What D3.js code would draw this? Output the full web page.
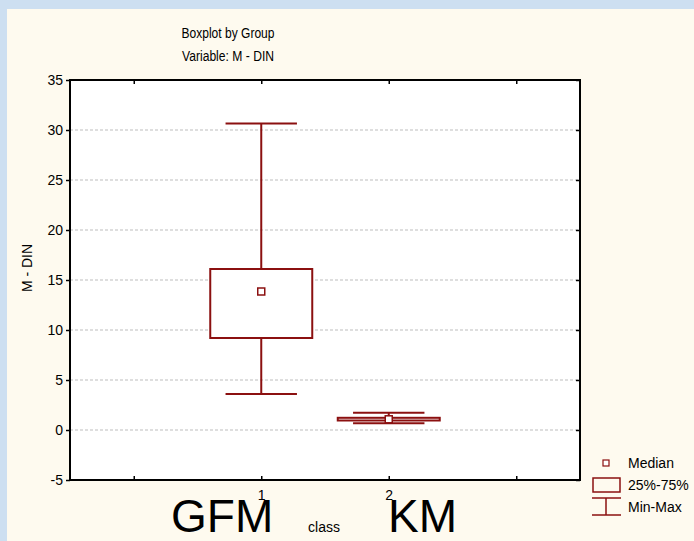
<!DOCTYPE html>
<meta charset="utf-8">
<script src="https://d3js.org/d3.v7.min.js"></script>
<style>
  body { margin: 0; }
  text { font-family: "Liberation Sans", Arial, sans-serif; fill: #000; }
</style>
<div id="chart"></div>
<script>
// data
var groupPos = [1, 2];
var groupNames = ["GFM", "KM"];
var mins = [3.6, 0.67];
var q1s = [9.2, 0.95];
var medians = [13.85, 1.07];
var q3s = [16.1, 1.22];
var maxs = [30.65, 1.72];
var yTicks = [-5, 0, 5, 10, 15, 20, 25, 30, 35];
var xTicks = [0, 1, 2, 3];

var W = 694, H = 541;
var red = "#8b1010";

var svg = d3.select("#chart").append("svg")
  .attr("width", W).attr("height", H);

// blue marble-ish page background + cream panel
svg.append("rect").attr("width", W).attr("height", H).attr("fill", "#cddff1");
svg.append("rect").attr("x", 7).attr("y", 9).attr("width", W - 7).attr("height", H - 9)
  .attr("fill", "#fefaef");

var x = d3.scaleLinear().domain([-0.5, 3.5]).range([70, 580]);
var y = d3.scaleLinear().domain([-5, 35]).range([480, 80]);

// plot area
svg.append("rect")
  .attr("x", x(-0.5)).attr("y", y(35))
  .attr("width", x(3.5) - x(-0.5)).attr("height", y(-5) - y(35))
  .attr("fill", "#fff");

// grid
svg.append("g").selectAll("line")
  .data(yTicks.filter(function(d) { return d > -5 && d < 35; }))
  .enter().append("line")
    .attr("x1", x(-0.5)).attr("x2", x(3.5))
    .attr("y1", function(d) { return y(d); })
    .attr("y2", function(d) { return y(d); })
    .attr("stroke", "#bdbdbd").attr("stroke-dasharray", "3,2");

function styleAxis(g) {
  g.select(".domain").remove();
  g.selectAll("line").attr("stroke", "#000").attr("stroke-width", 1.5);
  g.selectAll("text").style("font-size", "14px").attr("font-family", null);
}

svg.append("g").attr("transform", "translate(70,0)")
  .call(d3.axisLeft(y).tickValues(yTicks).tickSize(4).tickPadding(3)
    .tickFormat(function(d) { return String(d); }))
  .call(styleAxis);

svg.append("g").attr("transform", "translate(580,0)")
  .call(d3.axisRight(y).tickValues(yTicks).tickSize(-4).tickFormat(""))
  .call(styleAxis);

svg.append("g").attr("transform", "translate(0,80)")
  .call(d3.axisTop(x).tickValues(xTicks).tickSize(-4).tickFormat(""))
  .call(styleAxis);

svg.append("g").attr("transform", "translate(0,480)")
  .call(d3.axisBottom(x).tickValues(xTicks).tickSize(-4).tickPadding(10)
    .tickFormat(function(d) { return groupPos.indexOf(d) >= 0 ? d : ""; }))
  .call(styleAxis);

// frame
svg.append("rect")
  .attr("x", x(-0.5)).attr("y", y(35))
  .attr("width", x(3.5) - x(-0.5)).attr("height", y(-5) - y(35))
  .attr("fill", "none").attr("stroke", "#000").attr("stroke-width", 2);

// boxes
var boxW = 0.4, capW = 0.28;
var g = svg.append("g").selectAll("g")
  .data(groupPos.map(function(p, i) {
    return {p: p, min: mins[i], q1: q1s[i], med: medians[i], q3: q3s[i], max: maxs[i]};
  }))
  .enter().append("g");

g.append("line")
  .attr("x1", function(d) { return x(d.p); }).attr("x2", function(d) { return x(d.p); })
  .attr("y1", function(d) { return y(d.max); }).attr("y2", function(d) { return y(d.min); })
  .attr("stroke", red).attr("stroke-width", 2);
g.selectAll(".cap")
  .data(function(d) { return [{p: d.p, v: d.max}, {p: d.p, v: d.min}]; })
  .enter().append("line")
    .attr("x1", function(d) { return x(d.p - capW); }).attr("x2", function(d) { return x(d.p + capW); })
    .attr("y1", function(d) { return y(d.v); }).attr("y2", function(d) { return y(d.v); })
    .attr("stroke", red).attr("stroke-width", 2);
g.append("rect")
  .attr("x", function(d) { return x(d.p - boxW); })
  .attr("width", function(d) { return x(d.p + boxW) - x(d.p - boxW); })
  .attr("y", function(d) { return y(d.q3); })
  .attr("height", function(d) { return y(d.q1) - y(d.q3); })
  .attr("fill", "#fff").attr("stroke", red).attr("stroke-width", 2);
g.append("rect")
  .attr("x", function(d) { return x(d.p) - 3.5; })
  .attr("y", function(d) { return y(d.med) - 3.5; })
  .attr("width", 7).attr("height", 7)
  .attr("fill", "#fff").attr("stroke", red).attr("stroke-width", 1.5);

// titles
svg.append("text").attr("x", 228).attr("y", 38).attr("text-anchor", "middle")
  .style("font-size", "14px").attr("textLength", 93).attr("lengthAdjust", "spacingAndGlyphs")
  .text("Boxplot by Group");
svg.append("text").attr("x", 228).attr("y", 61).attr("text-anchor", "middle")
  .style("font-size", "14px").attr("textLength", 92).attr("lengthAdjust", "spacingAndGlyphs")
  .text("Variable: M - DIN");
svg.append("text").attr("transform", "translate(32,268) rotate(-90)")
  .attr("text-anchor", "middle").style("font-size", "14px").text("M - DIN");

// x axis group names
svg.selectAll(".gname").data(groupNames).enter().append("text")
  .attr("x", function(d, i) { return i === 0 ? 171 : 388; })
  .attr("y", 532).style("font-size", "46px").text(function(d) { return d; });
svg.append("text").attr("x", 324).attr("y", 532).attr("text-anchor", "middle")
  .style("font-size", "14px").text("class");

// legend
var lg = svg.append("g");
lg.append("rect").attr("x", 603).attr("y", 460).attr("width", 6).attr("height", 6)
  .attr("fill", "#fff").attr("stroke", red).attr("stroke-width", 1.2);
lg.append("rect").attr("x", 593).attr("y", 478).attr("width", 27).attr("height", 14)
  .attr("fill", "none").attr("stroke", red).attr("stroke-width", 1.5);
lg.append("line").attr("x1", 592).attr("x2", 621).attr("y1", 498).attr("y2", 498)
  .attr("stroke", red).attr("stroke-width", 1.5);
lg.append("line").attr("x1", 592).attr("x2", 621).attr("y1", 515).attr("y2", 515)
  .attr("stroke", red).attr("stroke-width", 1.5);
lg.append("line").attr("x1", 606).attr("x2", 606).attr("y1", 498).attr("y2", 515)
  .attr("stroke", red).attr("stroke-width", 1.5);
lg.selectAll("text").data(["Median", "25%-75%", "Min-Max"]).enter().append("text")
  .attr("x", 628).attr("y", function(d, i) { return [468, 490, 512][i]; })
  .style("font-size", "14px").text(function(d) { return d; });
</script>
